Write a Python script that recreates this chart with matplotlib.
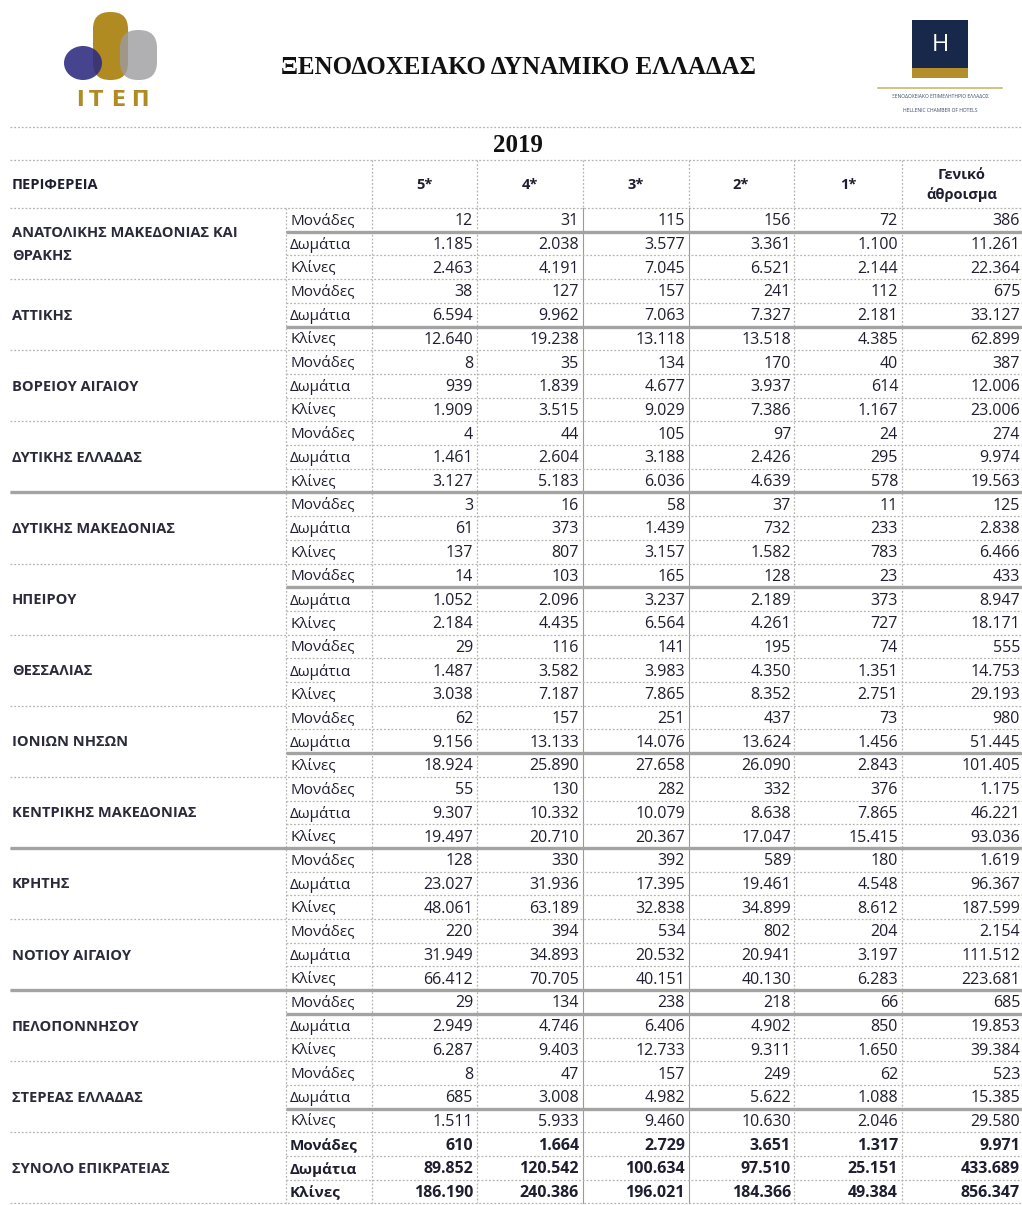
import matplotlib.pyplot as plt
import matplotlib.patches as patches

plt.rcParams['font.family'] = ['Open Sans', 'DejaVu Sans']

# --- data -------------------------------------------------------------
title = "ΞΕΝΟΔΟΧΕΙΑΚΟ ΔΥΝΑΜΙΚΟ ΕΛΛΑΔΑΣ"
year = "2019"
col_headers = ["5*", "4*", "3*", "2*", "1*", "Γενικό\nάθροισμα"]
metrics = ["Μονάδες", "Δωμάτια", "Κλίνες"]
regions = ["ΑΝΑΤΟΛΙΚΗΣ ΜΑΚΕΔΟΝΙΑΣ ΚΑΙ\nΘΡΑΚΗΣ", "ΑΤΤΙΚΗΣ", "ΒΟΡΕΙΟΥ ΑΙΓΑΙΟΥ",
           "ΔΥΤΙΚΗΣ ΕΛΛΑΔΑΣ", "ΔΥΤΙΚΗΣ ΜΑΚΕΔΟΝΙΑΣ", "ΗΠΕΙΡΟΥ", "ΘΕΣΣΑΛΙΑΣ",
           "ΙΟΝΙΩΝ ΝΗΣΩΝ", "ΚΕΝΤΡΙΚΗΣ ΜΑΚΕΔΟΝΙΑΣ", "ΚΡΗΤΗΣ", "ΝΟΤΙΟΥ ΑΙΓΑΙΟΥ",
           "ΠΕΛΟΠΟΝΝΗΣΟΥ", "ΣΤΕΡΕΑΣ ΕΛΛΑΔΑΣ", "ΣΥΝΟΛΟ ΕΠΙΚΡΑΤΕΙΑΣ"]

monades = [
    [12, 31, 115, 156, 72, 386],
    [38, 127, 157, 241, 112, 675],
    [8, 35, 134, 170, 40, 387],
    [4, 44, 105, 97, 24, 274],
    [3, 16, 58, 37, 11, 125],
    [14, 103, 165, 128, 23, 433],
    [29, 116, 141, 195, 74, 555],
    [62, 157, 251, 437, 73, 980],
    [55, 130, 282, 332, 376, 1175],
    [128, 330, 392, 589, 180, 1619],
    [220, 394, 534, 802, 204, 2154],
    [29, 134, 238, 218, 66, 685],
    [8, 47, 157, 249, 62, 523],
    [610, 1664, 2729, 3651, 1317, 9971],
]
domatia = [
    [1185, 2038, 3577, 3361, 1100, 11261],
    [6594, 9962, 7063, 7327, 2181, 33127],
    [939, 1839, 4677, 3937, 614, 12006],
    [1461, 2604, 3188, 2426, 295, 9974],
    [61, 373, 1439, 732, 233, 2838],
    [1052, 2096, 3237, 2189, 373, 8947],
    [1487, 3582, 3983, 4350, 1351, 14753],
    [9156, 13133, 14076, 13624, 1456, 51445],
    [9307, 10332, 10079, 8638, 7865, 46221],
    [23027, 31936, 17395, 19461, 4548, 96367],
    [31949, 34893, 20532, 20941, 3197, 111512],
    [2949, 4746, 6406, 4902, 850, 19853],
    [685, 3008, 4982, 5622, 1088, 15385],
    [89852, 120542, 100634, 97510, 25151, 433689],
]
klines = [
    [2463, 4191, 7045, 6521, 2144, 22364],
    [12640, 19238, 13118, 13518, 4385, 62899],
    [1909, 3515, 9029, 7386, 1167, 23006],
    [3127, 5183, 6036, 4639, 578, 19563],
    [137, 807, 3157, 1582, 783, 6466],
    [2184, 4435, 6564, 4261, 727, 18171],
    [3038, 7187, 7865, 8352, 2751, 29193],
    [18924, 25890, 27658, 26090, 2843, 101405],
    [19497, 20710, 20367, 17047, 15415, 93036],
    [48061, 63189, 32838, 34899, 8612, 187599],
    [66412, 70705, 40151, 40130, 6283, 223681],
    [6287, 9403, 12733, 9311, 1650, 39384],
    [1511, 5933, 9460, 10630, 2046, 29580],
    [186190, 240386, 196021, 184366, 49384, 856347],
]

# --- layout (pixels) --------------------------------------------------
W, H = 1022, 1205
top = 208
rh = 23.7
col_lines = [372, 477, 583, 689, 794, 902]
num_right = [473, 579, 685, 791, 898, 1020]
head_x = [424, 530, 636, 741, 848, 962]
# (boundary index, x start) of the heavy grey separators
heavy = [(1, 286), (5, 286), (12, 10), (16, 286), (23, 286), (27, 10),
         (33, 10), (34, 286), (38, 286)]
txt = '#1e1e30'

def fmt(v):
    return f"{v:,}".replace(",", ".")

fig = plt.figure(figsize=(W / 100, H / 100), dpi=100)
ax = fig.add_axes([0, 0, 1, 1])
ax.set_xlim(0, W)
ax.set_ylim(H, 0)
ax.axis('off')

# ITEP logo
ax.add_patch(patches.FancyBboxPatch((93, 12), 35, 68, boxstyle="round,pad=0,rounding_size=17",
                                    fc='#b08b22', ec='none'))
ax.add_patch(patches.Ellipse((83, 63), 38, 34, fc='#2d2a80', ec='none', alpha=0.88))
ax.add_patch(patches.FancyBboxPatch((120, 30), 37, 50, boxstyle="round,pad=0,rounding_size=18",
                                    fc='#9c9ca0', ec='none', alpha=0.8))
for ch, x in zip("ΙΤΕΠ", [80, 96, 118, 140]):
    ax.text(x, 100, ch, color='#b08b22', fontsize=15, fontweight='bold',
            family='DejaVu Sans', ha='center', va='center')

# hotel chamber logo
ax.add_patch(patches.Rectangle((912, 20), 56, 48, fc='#17284a', ec='none'))
ax.add_patch(patches.Rectangle((912, 68), 56, 10, fc='#b38e2a', ec='none'))
ax.text(940, 45, "H", color='white', fontsize=17, ha='center', va='center')
ax.plot([878, 1002], [88, 88], color='#cdb86a', lw=1.2)
ax.text(940, 97, "ΞΕΝΟΔΟΧΕΙΑΚΟ ΕΠΙΜΕΛΗΤΗΡΙΟ ΕΛΛΑΔΟΣ", fontsize=3.6, color='#3a4a6a',
        ha='center', va='center')
ax.text(940, 111, "HELLENIC CHAMBER OF HOTELS", fontsize=3.6, color='#3a4a6a',
        ha='center', va='center')

# title and year
ax.text(518, 68, title, family='Liberation Serif', fontweight='bold', fontsize=18,
        ha='center', va='center', color='#111111')
ax.text(518, 146, year, family='Liberation Serif', fontweight='bold', fontsize=18,
        ha='center', va='center', color='#111111')

dot = dict(color='#b4b4b4', lw=0.9, ls=(0, (1.5, 1.5)))
for y in (127, 160, top):
    ax.plot([10, W], [y, y], **dot)

# header row
ax.text(12, 185, "ΠΕΡΙΦΕΡΕΙΑ", fontsize=10.5, fontweight='bold', va='center', color=txt)
for x, h in zip(head_x, col_headers):
    ax.text(x, 185, h, fontsize=10.5, fontweight='bold',
            ha='center', va='center', color=txt, linespacing=1.45)
for x in col_lines:
    ax.plot([x, x], [160, top], **dot)

n_rows = 3 * len(regions)
bottom = top + rh * n_rows

# vertical lines in body
ax.plot([286, 286], [top, bottom], **dot)
for x in col_lines:
    if x in (583, 689):
        ax.plot([x, x], [top, bottom], color='#9a9a9a', lw=0.8)
    else:
        ax.plot([x, x], [top, bottom], **dot)

# horizontal lines
for k in range(1, n_rows + 1):
    y = top + rh * k
    x0 = 10 if k % 3 == 0 else 286
    ax.plot([x0, W], [y, y], **dot)
for k, x0 in heavy:
    y = top + rh * k
    ax.plot([x0, W], [y, y], color='#a3a3a3', lw=2.4, solid_capstyle='butt')

# body text
tables = [monades, domatia, klines]
for g, region in enumerate(regions):
    last = g == len(regions) - 1
    weight = 'bold' if last else 'normal'
    mid = top + rh * (3 * g + 1.5)
    ax.text(12, mid + 1, region, fontsize=10.5, fontweight='bold', va='center',
            color='#2a2a3a', linespacing=1.75)
    for m, metric in enumerate(metrics):
        y = top + rh * (3 * g + m + 0.5) + 1.5
        ax.text(290, y, metric, fontsize=11, fontweight=weight, va='center', color=txt)
        for c, v in enumerate(tables[m][g]):
            ax.text(num_right[c], y, fmt(v), fontsize=11.5, fontweight=weight,
                    ha='right', va='center', color=txt)

fig.savefig("out.png", dpi=100)
